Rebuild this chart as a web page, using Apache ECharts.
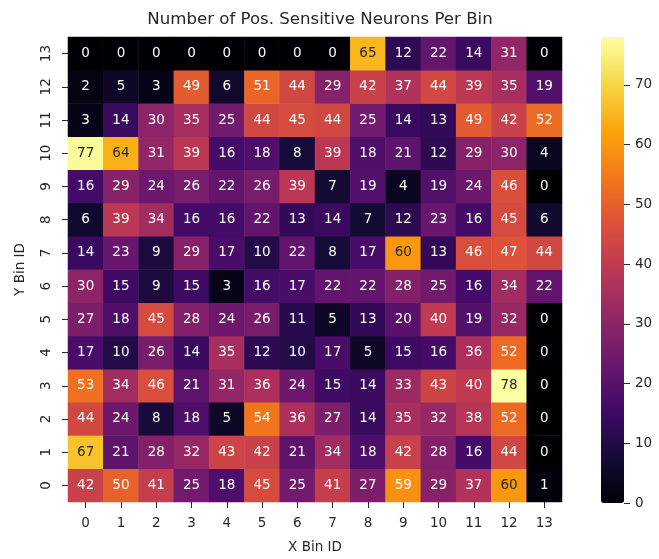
<!DOCTYPE html>
<html>
<head>
<meta charset="utf-8">
<script src="https://cdn.jsdelivr.net/npm/echarts@6/dist/echarts.min.js"></script>
<style>
  html, body { margin: 0; padding: 0; background: #fff; }
  #chart { width: 659px; height: 559px; }
</style>
</head>
<body>
<div id="chart"></div>
<script>
// Bin labels along each axis
const xBins = ['0','1','2','3','4','5','6','7','8','9','10','11','12','13'];
const yBins = ['0','1','2','3','4','5','6','7','8','9','10','11','12','13'];

// Neuron counts per bin, one array per Y bin, indexed by X bin
const rowY0  = [42, 50, 41, 25, 18, 45, 25, 41, 27, 59, 29, 37, 60, 1];
const rowY1  = [67, 21, 28, 32, 43, 42, 21, 34, 18, 42, 28, 16, 44, 0];
const rowY2  = [44, 24, 8, 18, 5, 54, 36, 27, 14, 35, 32, 38, 52, 0];
const rowY3  = [53, 34, 46, 21, 31, 36, 24, 15, 14, 33, 43, 40, 78, 0];
const rowY4  = [17, 10, 26, 14, 35, 12, 10, 17, 5, 15, 16, 36, 52, 0];
const rowY5  = [27, 18, 45, 28, 24, 26, 11, 5, 13, 20, 40, 19, 32, 0];
const rowY6  = [30, 15, 9, 15, 3, 16, 17, 22, 22, 28, 25, 16, 34, 22];
const rowY7  = [14, 23, 9, 29, 17, 10, 22, 8, 17, 60, 13, 46, 47, 44];
const rowY8  = [6, 39, 34, 16, 16, 22, 13, 14, 7, 12, 23, 16, 45, 6];
const rowY9  = [16, 29, 24, 26, 22, 26, 39, 7, 19, 4, 19, 24, 46, 0];
const rowY10 = [77, 64, 31, 39, 16, 18, 8, 39, 18, 21, 12, 29, 30, 4];
const rowY11 = [3, 14, 30, 35, 25, 44, 45, 44, 25, 14, 13, 49, 42, 52];
const rowY12 = [2, 5, 3, 49, 6, 51, 44, 29, 42, 37, 44, 39, 35, 19];
const rowY13 = [0, 0, 0, 0, 0, 0, 0, 0, 65, 12, 22, 14, 31, 0];

// Colour bar range and its tick labels
const colorMin = 0;
const colorMax = 78;
const colorTicks = [0, 10, 20, 30, 40, 50, 60, 70];

const rows = [rowY0, rowY1, rowY2, rowY3, rowY4, rowY5, rowY6,
              rowY7, rowY8, rowY9, rowY10, rowY11, rowY12, rowY13];

// Inferno colour ramp
const inferno = ['#000004', '#160b39', '#420a68', '#6a176e', '#932667',
                 '#bc3754', '#dd513a', '#f37819', '#fca50a', '#f6d746', '#fcffa4'];

const cells = [];
rows.forEach((row, yi) => {
  row.forEach((v, xi) => {
    cells.push({
      value: [xi, yi, v],
      label: { color: v >= 60 ? '#262626' : '#ffffff' }
    });
  });
});

const FONT = '"DejaVu Sans", sans-serif';
const TXT = '#262626';
const FS = 13.5;

const chart = echarts.init(document.getElementById('chart'), null, { renderer: 'canvas' });
chart.setOption({
  animation: false,
  backgroundColor: '#ffffff',
  textStyle: { fontFamily: FONT },
  title: {
    text: 'Number of Pos. Sensitive Neurons Per Bin',
    left: 315, top: 6, textAlign: 'center',
    textStyle: { fontFamily: FONT, fontSize: 16.6, fontWeight: 'normal', color: TXT }
  },
  grid: [
    { left: 68, top: 37, width: 494, height: 466 },
    { left: 601, top: 37, width: 23, height: 466 }
  ],
  xAxis: [
    {
      type: 'category', data: xBins, gridIndex: 0,
      name: 'X Bin ID', nameLocation: 'middle', nameGap: 38,
      nameTextStyle: { fontFamily: FONT, fontSize: FS, color: TXT },
      axisLine: { show: false },
      axisTick: { show: true, alignWithLabel: true, length: 6, lineStyle: { color: TXT } },
      axisLabel: { fontFamily: FONT, fontSize: FS, color: TXT, margin: 14 },
      splitLine: { show: false }
    },
    {
      type: 'category', data: [''], gridIndex: 1, show: false
    }
  ],
  yAxis: [
    {
      type: 'category', data: yBins, gridIndex: 0,
      name: 'Y Bin ID', nameLocation: 'middle', nameGap: 41, nameRotate: 90,
      nameTextStyle: { fontFamily: FONT, fontSize: FS, color: TXT },
      axisLine: { show: false },
      axisTick: { show: true, alignWithLabel: true, length: 6, lineStyle: { color: TXT } },
      axisLabel: { fontFamily: FONT, fontSize: FS, color: TXT, rotate: 90, margin: 15 },
      splitLine: { show: false }
    },
    {
      type: 'value', gridIndex: 1, position: 'right',
      min: colorMin, max: colorMax,
      axisLine: { show: false },
      splitLine: { show: false },
      axisTick: { show: true, length: 6, lineStyle: { color: TXT }, customValues: colorTicks },
      axisLabel: { fontFamily: FONT, fontSize: FS, color: TXT, margin: 11, customValues: colorTicks }
    }
  ],
  visualMap: {
    type: 'continuous',
    seriesIndex: 0,
    min: colorMin, max: colorMax,
    calculable: false,
    orient: 'vertical',
    left: 601, top: 37,
    itemWidth: 23, itemHeight: 466,
    padding: 0,
    text: null,
    showLabel: false,
    inRange: { color: inferno }
  },
  series: [{
    type: 'heatmap',
    xAxisIndex: 0, yAxisIndex: 0,
    data: cells,
    label: {
      show: true,
      fontFamily: FONT, fontSize: FS,
      formatter: p => String(p.value[2])
    },
    itemStyle: { borderWidth: 0 },
    emphasis: { disabled: true }
  }]
});
</script>
</body>
</html>
